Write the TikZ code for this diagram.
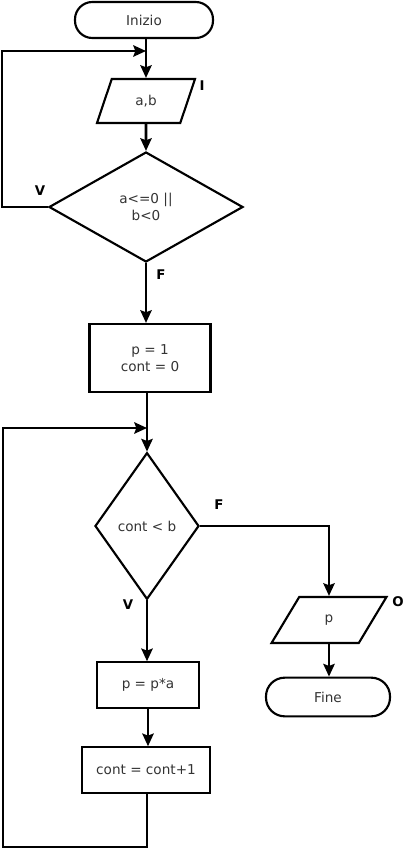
\documentclass[tikz,border=0pt]{standalone}
\usepackage{fontspec}
\setmainfont{DejaVu Sans}
\usetikzlibrary{shapes.geometric,arrows.meta}
\definecolor{txt}{HTML}{333333}
\tikzset{
  base/.style={draw=black, line width=1.6pt, inner sep=0pt, align=center, text=txt, font=\fontsize{10.2}{12.5}\selectfont},
  term/.style={base, rectangle, rounded corners=13pt},
  proc/.style={base, rectangle},
  io/.style={base, trapezium, trapezium left angle=69, trapezium right angle=111, trapezium stretches=true},
  dec/.style={base, diamond},
  flow/.style={line width=1.9pt, -{Stealth[length=9.5pt,width=8.5pt,inset=1.5pt]}},
  lab/.style={font=\bfseries\fontsize{10}{11}\selectfont, text=black}
}
\begin{document}
\begin{tikzpicture}[x=0.75pt,y=-0.75pt]
\useasboundingbox (0,0) rectangle (406,850);
\node[term, minimum width=103.5pt, minimum height=27pt] (inizio) at (144,20) {Inizio};
\node[io, minimum width=73.5pt, minimum height=33pt] (ab) at (146,101) {a,b};
\node[dec, minimum width=145.5pt, minimum height=82.5pt] (d1) at (146,207) {a<=0 ||\\b<0};
\node[proc, minimum width=90.75pt, minimum height=51pt] (p1) at (150,358) {p = 1\\cont = 0};
\node[dec, minimum width=78pt, minimum height=110pt] (d2) at (147,526) {cont < b};
\node[proc, minimum width=77pt, minimum height=34pt] (pa) at (148,685) {p = p*a};
\node[proc, minimum width=96pt, minimum height=34pt] (inc) at (146,770) {cont = cont+1};
\node[io, minimum width=86.25pt, minimum height=34.5pt] (pout) at (329,620) {p};
\node[term, minimum width=93pt, minimum height=29pt, rounded corners=14pt] (fine) at (328,697) {Fine};

\coordinate (j1) at (146,51);
\coordinate (l1) at (2,51);
\coordinate (j2) at (147,428);
\coordinate (l2) at (3,428);
\coordinate (b2) at (147,847);

\draw[flow] (inizio.south -| ab.north) -- (ab.north);
\draw[flow] (d1.west) -| (l1) -- (j1);
\draw[flow] (ab.south) -- (d1.north);
\draw[flow] (d1.south) -- (d1.south |- p1.north);
\draw[flow] (p1.south -| d2.north) -- (d2.north);
\draw[flow] (inc.south -| b2) -- (b2) -| (l2) -- (j2);
\draw[flow] (d2.south) -- (d2.south |- pa.north);
\draw[flow] (pa.south) -- (pa.south |- inc.north);
\draw[flow] (d2.east) -| (pout.north);
\draw[flow] (pout.south) -- (pout.south |- fine.north);

\node[lab] (li) at (202,86) {I};
\node[lab] (lv1) at (40,191) {V};
\node[lab] (lf1) at (161,275) {F};
\node[lab] (lf2) at (219,505) {F};
\node[lab] (lv2) at (128,605) {V};
\node[lab] (lo) at (398,602) {O};
\end{tikzpicture}
\end{document}
